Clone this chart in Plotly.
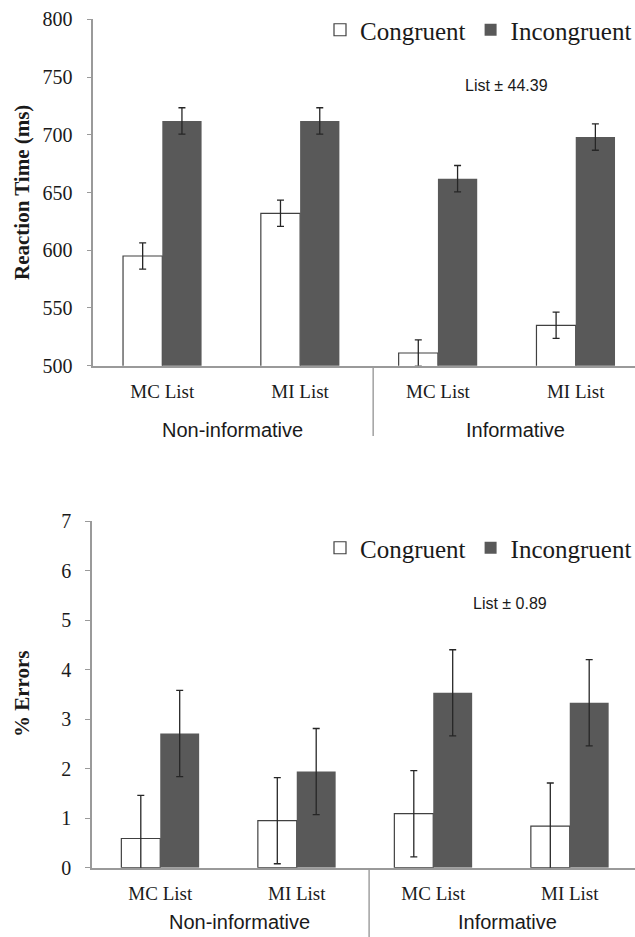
import plotly.graph_objects as go

# ---- data ----
categories = ["MC List", "MI List", "MC List", "MI List"]
groups = ["Non-informative", "Informative"]
series_names = ["Congruent", "Incongruent"]

rt_congruent = [595, 632, 511, 535]
rt_incongruent = [712, 712, 662, 698]
rt_error = [11.4, 11.4, 11.4, 11.4]
rt_note = "List ± 44.39"
rt_ticks = [500, 550, 600, 650, 700, 750, 800]

err_congruent = [0.59, 0.95, 1.09, 0.84]
err_incongruent = [2.71, 1.94, 3.53, 3.33]
err_error = [0.87, 0.87, 0.87, 0.87]
err_note = "List ± 0.89"
err_ticks = [0, 1, 2, 3, 4, 5, 6, 7]

W, H = 635, 937
SERIF = "Liberation Serif"
SANS = "Liberation Sans"
xpos = list(range(len(categories)))

def py(p):  # pixel y (from top) -> paper
    return 1 - p / H

def px(p):
    return p / W

fig = go.Figure()

def add_bars(cong, inc, err, xa, ya, legend):
    fig.add_trace(go.Bar(
        x=xpos, y=cong, name=series_names[0], xaxis=xa, yaxis=ya, legend=legend,
        marker=dict(color="white", line=dict(color="#404040", width=1.2)),
        error_y=dict(type="data", array=err, color="#262626", thickness=1.3, width=3.5),
    ))
    fig.add_trace(go.Bar(
        x=xpos, y=inc, name=series_names[1], xaxis=xa, yaxis=ya, legend=legend,
        marker=dict(color="#595959", line=dict(color="#595959", width=0)),
        error_y=dict(type="data", array=err, color="#262626", thickness=1.3, width=3.5),
    ))

add_bars(rt_congruent, rt_incongruent, rt_error, "x", "y", "legend")
add_bars(err_congruent, err_incongruent, err_error, "x2", "y2", "legend2")

axis_common = dict(showline=True, linecolor="#9a9a9a", linewidth=1.6, showgrid=False,
                   zeroline=False, automargin=False)
xfont = dict(family=SERIF, size=19, color="#1a1a1a")
yfont = dict(family=SERIF, size=20, color="#1a1a1a")
lfont = dict(family=SERIF, size=25, color="#1a1a1a")

fig.update_layout(
    template="none",
    width=W, height=H, margin=dict(l=0, r=0, t=0, b=0, autoexpand=False),
    paper_bgcolor="white", plot_bgcolor="white",
    barmode="group", bargap=0.43, bargroupgap=0,
    xaxis=dict(domain=[px(93.4), 1], range=[-0.5, 3.43], tickvals=xpos, ticktext=categories,
               ticks="", tickfont=xfont, anchor="y", ticklabelstandoff=8, **axis_common),
    yaxis=dict(domain=[py(365.7), py(19.3)], range=[500, 800], tickvals=rt_ticks,
               ticks="outside", ticklen=5, tickcolor="#9a9a9a", tickwidth=1.4,
               tickfont=yfont, anchor="x", ticklabelstandoff=10, **axis_common),
    xaxis2=dict(domain=[px(92), 1], range=[-0.5, 3.478], tickvals=xpos, ticktext=categories,
                ticks="", tickfont=xfont, anchor="y2", ticklabelstandoff=8, **axis_common),
    yaxis2=dict(domain=[py(867.7), py(521)], range=[0, 7], tickvals=err_ticks,
                ticks="outside", ticklen=5, tickcolor="#9a9a9a", tickwidth=1.4,
                tickfont=yfont, anchor="x2", ticklabelstandoff=10, **axis_common),
    legend=dict(orientation="h", x=px(320), xanchor="left", y=py(30), yanchor="middle",
                font=lfont, bgcolor="rgba(0,0,0,0)", itemwidth=30),
    legend2=dict(orientation="h", x=px(320), xanchor="left", y=py(548), yanchor="middle",
                 font=lfont, bgcolor="rgba(0,0,0,0)", itemwidth=30),
    showlegend=True,
)

ann = []
tfont = dict(family=SERIF, size=21, color="#1a1a1a")
# y-axis titles
ann.append(dict(text="<b>Reaction Time (ms)</b>", xref="paper", yref="paper", x=px(22), y=py(193),
                xanchor="center", yanchor="middle", textangle=-90, showarrow=False, font=tfont))
ann.append(dict(text="<b>% Errors</b>", xref="paper", yref="paper", x=px(22), y=py(694),
                xanchor="center", yanchor="middle", textangle=-90, showarrow=False, font=tfont))
# notes
nfont = dict(family=SANS, size=16, color="#1a1a1a")
ann.append(dict(text=rt_note, xref="paper", yref="paper", x=px(506), y=py(85), showarrow=False,
                xanchor="center", yanchor="middle", font=nfont))
ann.append(dict(text=err_note, xref="paper", yref="paper", x=px(510), y=py(603), showarrow=False,
                xanchor="center", yanchor="middle", font=nfont))
# group labels
gfont = dict(family=SANS, size=20, color="#1a1a1a")
for xr, xs, yp in [("x", [0.506, 2.56], 430), ("x2", [0.584, 2.544], 922)]:
    for g, xv in zip(groups, xs):
        ann.append(dict(text=g, xref=xr, yref="paper", x=xv, y=py(yp), showarrow=False,
                        xanchor="center", yanchor="middle", font=gfont))
fig.update_layout(annotations=ann)

# group separators
fig.add_shape(type="line", xref="x", yref="paper", x0=1.53, x1=1.53, y0=py(366), y1=py(436),
              line=dict(color="#9a9a9a", width=1.4))
fig.add_shape(type="line", xref="x2", yref="paper", x0=1.53, x1=1.53, y0=py(868), y1=0,
              line=dict(color="#9a9a9a", width=1.4))

fig.write_html("out.html", config={"displayModeBar": False},
               post_script="document.body.style.margin='0';document.body.style.padding='0';")
